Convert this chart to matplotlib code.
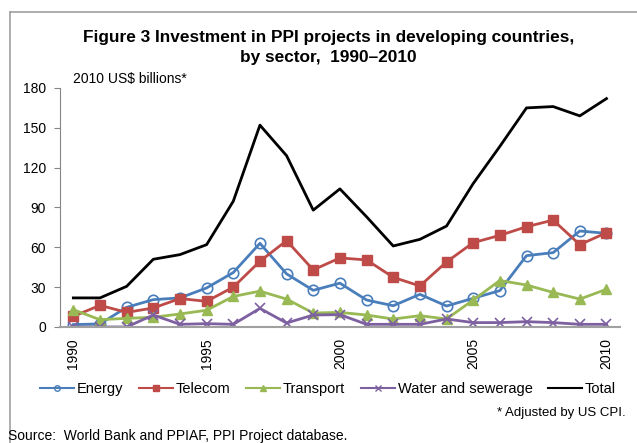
import matplotlib.pyplot as plt
from matplotlib.lines import Line2D

plt.rcParams['font.family'] = ['Liberation Sans', 'DejaVu Sans']

years = list(range(1990, 2011))
energy = [1.8, 2.3, 14.8, 20.6, 21.9, 29.4, 41, 63, 40, 27.6, 33,
          20.3, 16, 24.6, 15.8, 21.6, 27.4, 53.7, 56, 72.3, 70.5]
telecom = [8, 16.3, 11, 14.3, 21.4, 19.3, 30, 49.5, 65, 43, 52,
           50.5, 37.4, 30.9, 49, 63.5, 69, 75.5, 80.5, 62, 71]
transport = [13, 5.5, 6.5, 7.3, 9.8, 12.6, 23, 27, 21, 10.5, 11,
             9, 6, 8.5, 6, 20.3, 35, 31.6, 26, 21, 28.4]
water = [0, 0, 0, 9, 2, 2.5, 2, 14, 3, 9, 9.3,
         2, 2, 2, 6, 3.3, 3.3, 4, 3.3, 2, 2]
total = [21.9, 21.9, 30.6, 51, 54.5, 62, 94.7, 152, 129, 88, 104,
         83, 61, 66, 76, 108, 136, 165, 166, 159, 172]

fig = plt.figure(figsize=(6.37, 4.43), dpi=100)
ax = fig.add_axes([0.0942, 0.2619, 0.8788, 0.5395])

x = list(range(len(years)))
ax.plot(x, energy, color='#4a7ebb', lw=2, marker='o', ms=7.5, mfc='none', mec='#4a7ebb', mew=1.2, label='Energy')
ax.plot(x, telecom, color='#be4b48', lw=2, marker='s', ms=7.5, label='Telecom')
ax.plot(x, transport, color='#98b954', lw=2, marker='^', ms=7.5, label='Transport')
ax.plot(x, water, color='#7d60a0', lw=2, marker='x', ms=7, mew=1.2, label='Water and sewerage')
ax.plot(x, total, color='black', lw=2, label='Total')

ax.set_xlim(-0.5, 20.5)
ax.set_ylim(0, 180)
ax.set_yticks(range(0, 181, 30))
ax.set_xticks([0, 5, 10, 15, 20])
ax.set_xticklabels(['1990', '1995', '2000', '2005', '2010'], rotation=90)
ax.tick_params(axis='x', length=0, pad=8, labelsize=10)
ax.tick_params(axis='y', length=4, color='#868686', labelsize=10, pad=6)
for s in ['top', 'right']:
    ax.spines[s].set_visible(False)
ax.spines['left'].set_color('#868686')
ax.spines['bottom'].set_color('#a0a0a0')
ax.spines['bottom'].set_linewidth(1.5)

fig.text(0.516, 0.915, 'Figure 3 Investment in PPI projects in developing countries,',
         ha='center', va='center', fontsize=12.4, fontweight='bold')
fig.text(0.516, 0.87, 'by sector,  1990\u20132010',
         ha='center', va='center', fontsize=12.4, fontweight='bold')
fig.text(0.115, 0.822, '2010 US$ billions*', ha='left', va='center', fontsize=10)

handles = [
    Line2D([], [], color='#4a7ebb', lw=1.5, marker='o', ms=4, mfc='none'),
    Line2D([], [], color='#be4b48', lw=1.5, marker='s', ms=5),
    Line2D([], [], color='#98b954', lw=1.5, marker='^', ms=5),
    Line2D([], [], color='#7d60a0', lw=1.5, marker='x', ms=5),
    Line2D([], [], color='black', lw=1.5),
]
fig.legend(handles, ['Energy', 'Telecom', 'Transport', 'Water and sewerage', 'Total'],
           loc='center', bbox_to_anchor=(0.515, 0.122), ncol=5, frameon=False,
           fontsize=10.5, handlelength=2.3, handletextpad=0.2, columnspacing=1.1)

fig.text(0.982, 0.068, '* Adjusted by US CPI.', ha='right', va='center', fontsize=9.5)
fig.text(0.013, 0.015, 'Source:  World Bank and PPIAF, PPI Project database.', ha='left', va='center', fontsize=10)

# outer frame
fig.add_artist(Line2D([0.0157, 0.0157], [0, 0.973], color='#a0a0a0', lw=1.2, transform=fig.transFigure))
fig.add_artist(Line2D([0.0157, 1], [0.973, 0.973], color='#a0a0a0', lw=1.2, transform=fig.transFigure))

fig.savefig('out.png', dpi=100)
